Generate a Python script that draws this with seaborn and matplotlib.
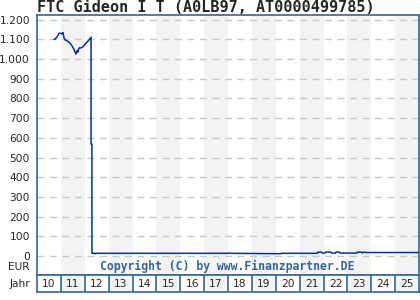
import matplotlib
matplotlib.use("Agg")
import matplotlib.pyplot as plt
import seaborn as sns
import pandas as pd

# ---- data ----
x_years = [2010.712, 2010.76, 2010.825, 2010.880, 2010.921, 2011.005, 2011.05, 2011.089,
           2011.131, 2011.173, 2011.257, 2011.382, 2011.466, 2011.550, 2011.592, 2011.634,
           2011.675, 2011.717, 2011.759, 2011.843, 2011.927, 2012.052, 2012.136, 2012.220,
           2012.262, 2012.264, 2012.300, 2012.302,
           2012.42, 2012.44, 2012.47, 2018.00, 2018.05, 2018.10, 2020.20, 2020.25,
           2021.74, 2021.76, 2021.92, 2021.96, 2022.05, 2022.09, 2022.31, 2022.35,
           2022.50, 2022.52, 2022.66, 2022.70, 2023.40, 2023.42, 2023.60, 2023.63,
           2023.67, 2023.81, 2025.99]
prices = [1100, 1100, 1110, 1120, 1130, 1130, 1128, 1134,
          1107, 1097, 1092, 1081, 1066, 1049, 1035, 1025,
          1042, 1035, 1056, 1056, 1062, 1080, 1091, 1102,
          1110, 568, 568, 14,
          14, 11, 14, 14, 16, 14, 12, 14,
          14, 20, 20, 15, 15, 20, 20, 15,
          15, 20, 20, 15, 15, 20, 20, 15,
          20, 18, 18]
year_labels = [str(y) for y in range(10, 26)]
y_ticks = list(range(0, 1300, 100))
title = "FTC Gideon I T (A0LB97, AT0000499785)"
copyright_text = "Copyright (C) by www.Finanzpartner.DE"

df = pd.DataFrame({"year": x_years, "price": prices})

# ---- style ----
sns.set_style("white")
plt.rcParams['font.family'] = ['DejaVu Sans']
frame_col = "#336699"
line_col = "#003399"
band_col = "#f3f3f3"

W, H = 420, 300
fig = plt.figure(figsize=(W / 100, H / 100), dpi=100)
fig.patch.set_facecolor("white")

left_px, right_px = 37, 419
top_px, bot_px = 15, 275
ax = fig.add_axes([left_px / W, 1 - bot_px / H, (right_px - left_px) / W, (bot_px - top_px) / H])

x0, x1 = 2010, 2026
for i, y in enumerate(range(x0, x1)):
    if y % 2 == 1:
        ax.axvspan(y, y + 1, color=band_col, lw=0, zorder=0)

for t in y_ticks:
    ax.axhline(t, color="#c8c8c8", lw=1, ls=(0, (5, 4)), zorder=1)

sns.lineplot(data=df, x="year", y="price", ax=ax, color=line_col, lw=1.1,
             estimator=None, sort=False, zorder=3)

ax.set_xlim(x0, x1)
ax.set_ylim(-96, 1223)
ax.set_xticks([])
ax.set_yticks(y_ticks)
ax.set_yticklabels([f"{v:,}".replace(",", ".") for v in y_ticks], fontsize=7.7)
ax.tick_params(axis="y", length=0, pad=5)
ax.set_xlabel("")
ax.set_ylabel("")
for s in ax.spines.values():
    s.set_color(frame_col)
    s.set_linewidth(1.2)

ax.text(-0.018, 0.031, "EUR", transform=ax.transAxes, ha="right", va="center", fontsize=7.7)
ax.text(0.497, 0.031, copyright_text, transform=ax.transAxes, ha="center", va="center",
        fontsize=8.3, fontweight="bold", color=frame_col, family="DejaVu Sans Mono")

# ---- year row ----
yb_top, yb_bot = 275, 292
ay = fig.add_axes([left_px / W, 1 - yb_bot / H, (right_px - left_px) / W, (yb_bot - yb_top) / H])
ay.set_xlim(x0, x1)
ay.set_ylim(0, 1)
for i, lab in enumerate(year_labels):
    yr = x0 + i
    if yr % 2 == 1:
        ay.axvspan(yr, yr + 1, color=band_col, lw=0, zorder=0)
    if i > 0:
        ay.axvline(yr, color=frame_col, lw=1.2)
    ay.text(yr + 0.5, 0.45, lab, ha="center", va="center", fontsize=7.7)
ay.set_xticks([])
ay.set_yticks([])
for s in ay.spines.values():
    s.set_color(frame_col)
    s.set_linewidth(1.2)
ay.text(-0.018, 0.45, "Jahr", transform=ay.transAxes, ha="right", va="center", fontsize=7.7)

fig.text(left_px / W, 0.974, title, ha="left", va="center", fontsize=10.9,
         fontweight="bold", family="DejaVu Sans Mono")

fig.savefig("out.png", dpi=100)
